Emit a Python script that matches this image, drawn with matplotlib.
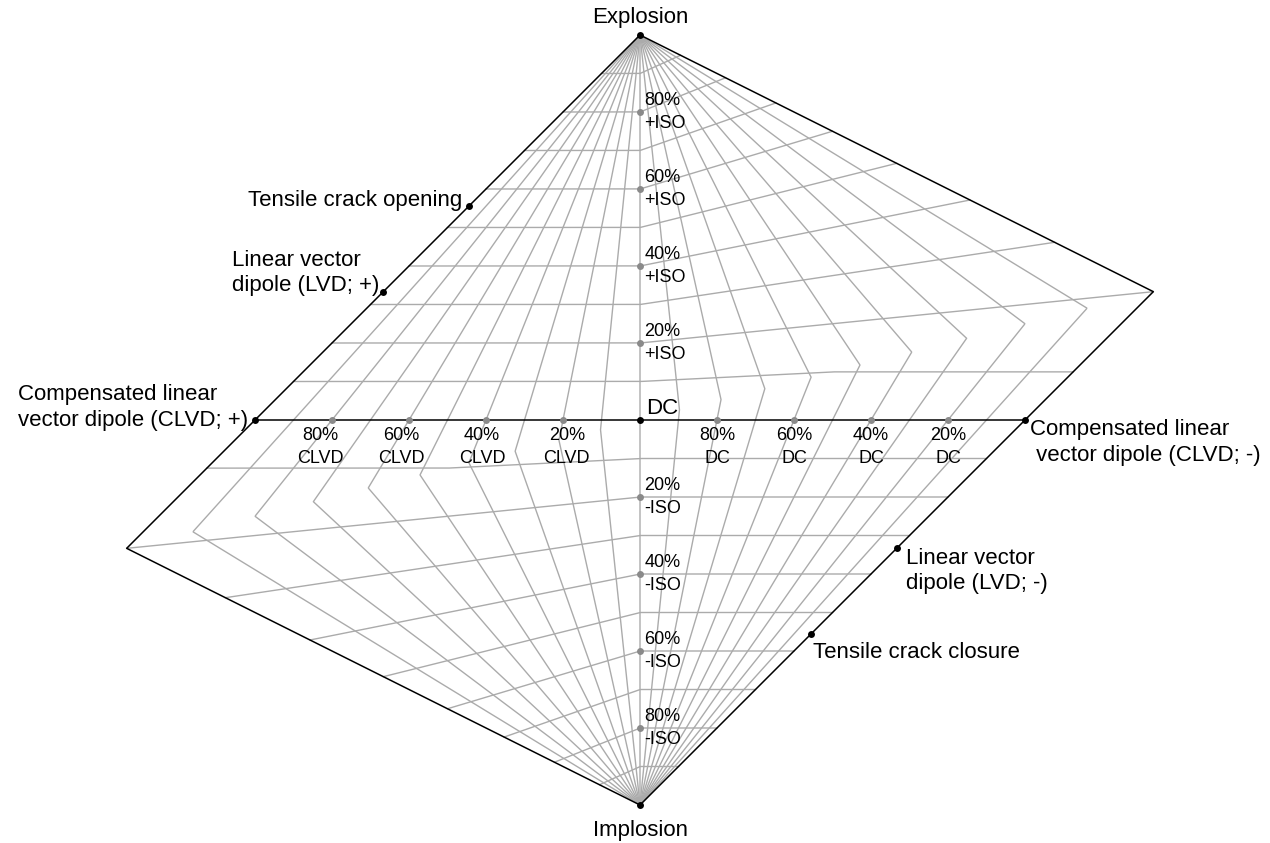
import numpy as np
from matplotlib import pyplot as plt

plt.rcParams['font.family'] = ['Liberation Sans', 'DejaVu Sans']

# Hudson (1989) source-type grid: lines of constant T and constant k
T_lines = [-0.9, -0.8, -0.7, -0.6, -0.5, -0.4, -0.3, -0.2, -0.1, 0.0,
           0.1, 0.2, 0.3, 0.4, 0.5, 0.6, 0.7, 0.8, 0.9]
k_lines = [-0.9, -0.8, -0.7, -0.6, -0.5, -0.4, -0.3, -0.2, -0.1,
           0.1, 0.2, 0.3, 0.4, 0.5, 0.6, 0.7, 0.8, 0.9]

# end-member sources given by their eigenvalues (l1 >= l2 >= l3)
end_names = ['Explosion', 'Implosion', 'DC',
             'CLVD+', 'CLVD-', 'LVD+', 'LVD-', 'Crack+', 'Crack-']
end_eigs = [(1, 1, 1), (-1, -1, -1), (1, 0, -1),
            (2, -1, -1), (1, 1, -2), (1, 0, 0), (0, 0, -1),
            (3, 1, 1), (-1, -1, -3)]

# labelled reference points
iso_k = [0.2, 0.4, 0.6, 0.8, -0.2, -0.4, -0.6, -0.8]
iso_text = ['20%\n+ISO', '40%\n+ISO', '60%\n+ISO', '80%\n+ISO',
            '20%\n-ISO', '40%\n-ISO', '60%\n-ISO', '80%\n-ISO']
clvd_T = [-0.2, -0.4, -0.6, -0.8]
clvd_text = ['20%\nCLVD', '40%\nCLVD', '60%\nCLVD', '80%\nCLVD']
dc_T = [0.2, 0.4, 0.6, 0.8]
dc_text = ['80%\nDC', '60%\nDC', '40%\nDC', '20%\nDC']


def eig2uv(l1, l2, l3):
    l1, l2, l3 = np.asarray(l1, float), np.asarray(l2, float), np.asarray(l3, float)
    norm = np.maximum(np.maximum(np.abs(l1), np.abs(l2)), np.abs(l3))
    u = -2.0 / 3.0 * (l1 + l3 - 2 * l2) / norm
    v = (l1 + l2 + l3) / 3.0 / norm
    return u, v


def tk2uv(T, k):
    T, k = np.broadcast_arrays(np.asarray(T, float), np.asarray(k, float))
    m1 = np.where(T <= 0, 1.0, 1.0 - T / 2)
    m2 = T / 2
    m3 = np.where(T <= 0, -(1.0 + T / 2), -1.0)
    s = 1 - np.abs(k)
    return eig2uv(k + s * m1, k + s * m2, k + s * m3)


s = np.linspace(-1, 1, 2001)
grey = '#ababab'

plt.close('all')
fig = plt.figure(figsize=(12.7, 8.43), dpi=100)
ax = fig.add_axes([0, 0, 1, 1])

for T in T_lines:
    u, v = tk2uv(T, s)
    ax.plot(u, v, color=grey, lw=1.0, zorder=1)
for k in k_lines:
    u, v = tk2uv(s, k)
    ax.plot(u, v, color=grey, lw=1.0, zorder=1)

# outline (T = +-1) and k = 0 line
for T in (-1.0, 1.0):
    u, v = tk2uv(T, s)
    ax.plot(u, v, color='black', lw=1.1, zorder=2)
u, v = tk2uv(s, 0.0)
ax.plot(u, v, color='black', lw=1.1, zorder=2)

# grey reference dots and their labels
fs_small = 13
ls_small = 1.45
u, v = tk2uv(0.0, np.array(iso_k))
ax.plot(u, v, 'o', color='#8a8a8a', ms=5, mec='none', zorder=3)
for uu, vv, t in zip(u, v, iso_text):
    ax.text(uu + 0.011, vv, t, ha='left', va='center', fontsize=fs_small,
            linespacing=ls_small)

u, v = tk2uv(np.array(clvd_T), 0.0)
ax.plot(u, v, 'o', color='#8a8a8a', ms=5, mec='none', zorder=3)
clvd_lab_x = [-0.19, -0.41, -0.62, -0.83]
for xx, t in zip(clvd_lab_x, clvd_text):
    ax.text(xx, -0.071, t, ha='center', va='center', fontsize=fs_small,
            linespacing=ls_small)

u, v = tk2uv(np.array(dc_T), 0.0)
ax.plot(u, v, 'o', color='#8a8a8a', ms=5, mec='none', zorder=3)
for uu, t in zip(u, dc_text):
    ax.text(uu, -0.071, t, ha='center', va='center', fontsize=fs_small,
            linespacing=ls_small)

# end members
eu, ev = eig2uv(*np.array(end_eigs, float).T)
ax.plot(eu, ev, 'o', color='black', ms=5, mec='none', zorder=4)

fs = 16
ls = 1.3
ax.text(0, 1.045, 'Explosion', ha='center', va='center', fontsize=fs)
ax.text(0, -1.065, 'Implosion', ha='center', va='center', fontsize=fs)
ax.text(0.016, 0.031, 'DC', ha='left', va='center', fontsize=fs)
ax.text(-1.018, 0.033, 'Compensated linear\nvector dipole (CLVD; +)',
        ha='right', va='center', multialignment='left', fontsize=fs, linespacing=ls)
ax.text(1.013, -0.058, 'Compensated linear\n vector dipole (CLVD; -)',
        ha='left', va='center', multialignment='left', fontsize=fs, linespacing=ls)
ax.text(-0.678, 0.382, 'Linear vector\ndipole (LVD; +)',
        ha='right', va='center', multialignment='left', fontsize=fs, linespacing=ls)
ax.text(0.691, -0.392, 'Linear vector\ndipole (LVD; -)',
        ha='left', va='center', multialignment='left', fontsize=fs, linespacing=ls)
ax.text(-0.462, 0.571, 'Tensile crack opening', ha='right', va='center', fontsize=fs)
ax.text(0.449, -0.605, 'Tensile crack closure', ha='left', va='center', fontsize=fs)

ax.set_xlim(-640 / 385, 630 / 385)
ax.set_ylim(-423 / 385, 420 / 385)
ax.axis('off')

fig.savefig('out.png', dpi=100)
